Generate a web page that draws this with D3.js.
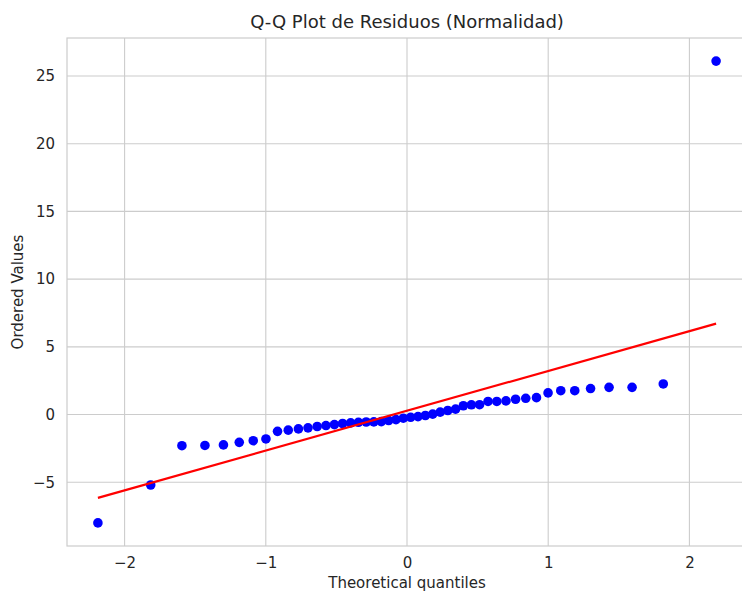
<!DOCTYPE html>
<html>
<head>
<meta charset="utf-8">
<script src="https://cdn.jsdelivr.net/npm/d3@7"></script>
<style>
  html, body { margin: 0; padding: 0; background: #ffffff; }
  svg { display: block; }
  text { font-family: "DejaVu Sans", sans-serif; fill: #262626; }
</style>
</head>
<body>
<svg id="chart" width="742" height="592"></svg>
<script>
// Theoretical quantiles (n = 48)
const theoreticalQuantiles = [
  -2.189, -1.815, -1.594, -1.431, -1.300, -1.188, -1.089, -0.999,
  -0.917, -0.841, -0.769, -0.701, -0.636, -0.574, -0.514, -0.456,
  -0.399, -0.344, -0.289, -0.235, -0.182, -0.130, -0.078, -0.026,
   0.026,  0.078,  0.130,  0.182,  0.235,  0.289,  0.344,  0.399,
   0.456,  0.514,  0.574,  0.636,  0.701,  0.769,  0.841,  0.917,
   0.999,  1.089,  1.188,  1.300,  1.431,  1.594,  1.815,  2.189
];
// Ordered residuals
const orderedValues = [
  -8.00, -5.20, -2.30, -2.28, -2.24, -2.05, -1.93, -1.80,
  -1.24, -1.15, -1.06, -0.98, -0.88, -0.81, -0.74, -0.66,
  -0.61, -0.57, -0.55, -0.54, -0.52, -0.44, -0.37, -0.27,
  -0.20, -0.15, -0.07,  0.03,  0.18,  0.30,  0.40,  0.65,
   0.72,  0.73,  0.97,  0.97,  1.01,  1.13,  1.20,  1.25,
   1.60,  1.76,  1.76,  1.92,  2.01,  2.01,  2.26, 26.10
];
// Fitted reference line (slope, intercept)
const fitLine = [2.94, 0.28];
const xTicks = [-2, -1, 0, 1, 2];
const yTicks = [-5, 0, 5, 10, 15, 20, 25];
const titleText = "Q-Q Plot de Residuos (Normalidad)";
const xLabel = "Theoretical quantiles";
const yLabel = "Ordered Values";

const svg = d3.select("#chart");
const margin = { left: 67, right: 747, top: 38, bottom: 546 };

function padded(ext) {
  const r = ext[1] - ext[0];
  return [ext[0] - 0.05 * r, ext[1] + 0.05 * r];
}
const x = d3.scaleLinear().domain(padded(d3.extent(theoreticalQuantiles))).range([margin.left, margin.right]);
const y = d3.scaleLinear().domain(padded(d3.extent(orderedValues))).range([margin.bottom, margin.top]);

const gridColor = "#cccccc";
const textColor = "#2b2b2b";

// Gridlines
const g = svg.append("g");
g.selectAll(".vg").data(xTicks).join("line")
  .attr("x1", d => x(d)).attr("x2", d => x(d))
  .attr("y1", margin.top).attr("y2", margin.bottom)
  .attr("stroke", gridColor).attr("stroke-width", 1.1);
g.selectAll(".hg").data(yTicks).join("line")
  .attr("x1", margin.left).attr("x2", margin.right)
  .attr("y1", d => y(d)).attr("y2", d => y(d))
  .attr("stroke", gridColor).attr("stroke-width", 1.1);

// Spines
svg.append("rect")
  .attr("x", margin.left).attr("y", margin.top)
  .attr("width", margin.right - margin.left).attr("height", margin.bottom - margin.top)
  .attr("fill", "none").attr("stroke", gridColor).attr("stroke-width", 1.2);

// Axes (tick labels only)
const xAxis = d3.axisBottom(x).tickValues(xTicks).tickSize(0).tickPadding(11)
  .tickFormat(d => d3.format("d")(d).replace("-", "\u2212"));
const xg = svg.append("g").attr("transform", `translate(0,${margin.bottom})`).call(xAxis);
xg.select(".domain").remove();
xg.selectAll("text").attr("font-size", 15).attr("font-family", "DejaVu Sans").attr("fill", textColor);

const yAxis = d3.axisLeft(y).tickValues(yTicks).tickSize(0).tickPadding(12)
  .tickFormat(d => d3.format("d")(d).replace("-", "\u2212"));
const yg = svg.append("g").attr("transform", `translate(${margin.left},0)`).call(yAxis);
yg.select(".domain").remove();
yg.selectAll("text").attr("font-size", 15).attr("font-family", "DejaVu Sans").attr("fill", textColor);

// Points
const pts = theoreticalQuantiles.map((q, i) => ({ q, v: orderedValues[i] }));
svg.append("g").selectAll("circle").data(pts).join("circle")
  .attr("cx", d => x(d.q)).attr("cy", d => y(d.v)).attr("r", 4.8)
  .attr("fill", "#0000ff");

// Fitted line
const qExt = d3.extent(theoreticalQuantiles);
const line = d3.line().x(d => x(d)).y(d => y(fitLine[0] * d + fitLine[1]));
svg.append("path").datum(qExt).attr("d", line)
  .attr("fill", "none").attr("stroke", "#ff0000").attr("stroke-width", 2.2);

// Title & labels
svg.append("text").attr("x", (margin.left + margin.right) / 2).attr("y", 28)
  .attr("text-anchor", "middle").attr("font-size", 18).attr("fill", textColor).text(titleText);
svg.append("text").attr("x", (margin.left + margin.right) / 2).attr("y", 588)
  .attr("text-anchor", "middle").attr("font-size", 15).attr("fill", textColor).text(xLabel);
svg.append("text").attr("transform", `translate(23,${(margin.top + margin.bottom) / 2}) rotate(-90)`)
  .attr("text-anchor", "middle").attr("font-size", 15).attr("fill", textColor).text(yLabel);
</script>
</body>
</html>
